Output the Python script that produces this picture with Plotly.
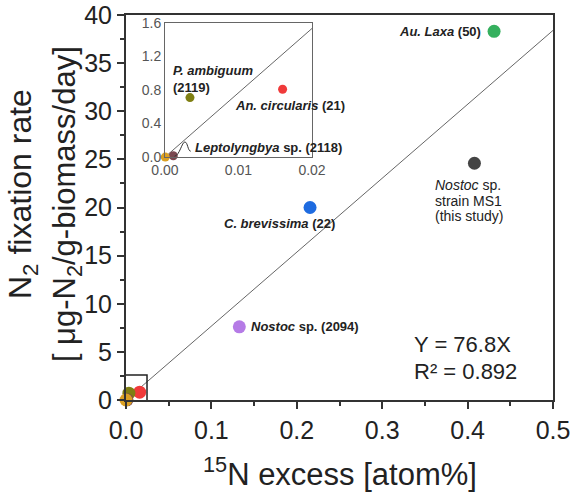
import plotly.graph_objects as go

FONT = "Liberation Sans, Arial, sans-serif"

# Data (main panel)
names = ["Au. Laxa (50)", "Nostoc sp. strain MS1", "C. brevissima (22)", "Nostoc sp. (2094)",
         "An. circularis (21)", "P. ambiguum (2119)", "Leptolyngbya sp. (2118)", "unlabelled"]
x_excess = [0.431, 0.408, 0.2155, 0.1327, 0.0160, 0.0034, 0.00113, 0.00004]
y_rate = [38.3, 24.6, 20.0, 7.6, 0.81, 0.71, 0.016, 0.0]
colors = ["#35b05e", "#444444", "#1e6be0", "#b57be6", "#f03a3a", "#7f7f12", "#7a4850", "#dba023"]

slope = 76.8
fit_x = [0.0, 0.5]
fit_x_inset = [0.0, 0.02]

fig = go.Figure()

fig.add_trace(go.Scatter(x=fit_x, y=[slope * v for v in fit_x], mode="lines",
                         line=dict(color="#666666", width=1), xaxis="x", yaxis="y",
                         hoverinfo="skip", showlegend=False))
fig.add_trace(go.Scatter(x=x_excess, y=y_rate, mode="markers",
                         marker=dict(size=13, color=colors, line=dict(width=0)),
                         xaxis="x", yaxis="y", cliponaxis=False, showlegend=False))

fig.add_trace(go.Scatter(x=fit_x_inset, y=[slope * v for v in fit_x_inset], mode="lines",
                         line=dict(color="#666666", width=1), xaxis="x2", yaxis="y2",
                         hoverinfo="skip", showlegend=False))
ins = [4, 5, 6, 7]
fig.add_trace(go.Scatter(x=[x_excess[i] for i in ins], y=[y_rate[i] for i in ins], mode="markers",
                         marker=dict(size=9, color=[colors[i] for i in ins], line=dict(width=0)),
                         xaxis="x2", yaxis="y2", cliponaxis=False, showlegend=False))

tickfont_main = dict(family=FONT, size=25, color="#222222")
fig.update_layout(
    width=574, height=494,
    margin=dict(l=126, r=21, t=15, b=94, autoexpand=False),
    paper_bgcolor="white", plot_bgcolor="white",
    showlegend=False,
    xaxis=dict(domain=[0, 1], range=[0, 0.5], dtick=0.1, tick0=0, tickformat=".1f",
               automargin=False,
               showgrid=False, zeroline=False, showline=True, linecolor="#333333", linewidth=2,
               mirror=True, ticks="outside", ticklen=7, tickwidth=1.5, tickcolor="#333333",
               minor=dict(dtick=0.05, ticks="outside", ticklen=4, tickcolor="#333333"),
               tickfont=tickfont_main, anchor="y"),
    yaxis=dict(domain=[0, 1], range=[0, 40], dtick=5, tick0=0, automargin=False,
               showgrid=False, zeroline=False, showline=True, linecolor="#333333", linewidth=2,
               mirror=True, ticks="outside", ticklen=7, tickwidth=1.5, tickcolor="#333333",
               minor=dict(dtick=2.5, ticks="outside", ticklen=4, tickcolor="#333333"),
               tickfont=tickfont_main, anchor="x"),
    xaxis2=dict(domain=[0.0913, 0.4356], range=[0, 0.02], tickvals=[0, 0.01, 0.02],
                tickformat=".2f", showgrid=False, zeroline=False, showline=True, automargin=False,
                linecolor="#666666", linewidth=1, mirror=True, ticks="", anchor="y2",
                tickfont=dict(family=FONT, size=14, color="#555555")),
    yaxis2=dict(domain=[0.631, 0.979], range=[0, 1.6], tickvals=[0, 0.4, 0.8, 1.2, 1.6],
                tickformat=".1f", showgrid=False, zeroline=False, showline=True, automargin=False,
                linecolor="#666666", linewidth=1, mirror=True, ticks="", anchor="x2",
                tickfont=dict(family=FONT, size=14, color="#555555")),
)

fig.add_shape(type="rect", xref="x", yref="y", x0=-0.0105, x1=0.0246, y0=-0.5, y1=2.6,
              line=dict(color="#222222", width=1.5), fillcolor="rgba(0,0,0,0)")
fig.add_shape(type="path", xref="x2", yref="y2",
              path="M 0.0013,0.01 C 0.0020,0.02 0.0023,0.18 0.0027,0.18 C 0.0031,0.18 0.0031,0.07 0.0035,0.07",
              line=dict(color="#333333", width=1))

lab = dict(family=FONT, size=13, color="#222222")


def add_label(i, text, xanchor, xshift, yshift, ax="x", ay="y", font=lab, yanchor="middle"):
    fig.add_annotation(x=x_excess[i], y=y_rate[i], xref=ax, yref=ay, text=text, showarrow=False,
                       xanchor=xanchor, yanchor=yanchor, xshift=xshift, yshift=yshift, font=font,
                       align="left")


add_label(0, "<b><i>Au. Laxa</i> (50)</b>", "right", -11, 0)
regular = dict(family=FONT, size=14, color="#222222")
add_label(1, "<i>Nostoc</i> sp.", "left", -41, -21.7, font=regular)
add_label(1, "strain MS1", "left", -41, -37.7, font=regular)
add_label(1, "(this study)", "left", -41, -52.7, font=regular)
add_label(2, "<b><i>C. brevissima</i> (22)</b>", "right", 26.7, -16)
add_label(3, "<b><i>Nostoc</i> sp. (2094)</b>", "left", 10, 0)
add_label(4, "<b><i>An. circularis</i> (21)</b>", "right", 64.4, -16.4, ax="x2", ay="y2")
add_label(5, "<b><i>P. ambiguum</i><br>(2119)</b>", "left", -19, 18.7, ax="x2", ay="y2")
add_label(6, "<b><i>Leptolyngbya</i> sp. (2118)</b>", "left", 20, 8, ax="x2", ay="y2")

eq = dict(family=FONT, size=22, color="#222222")
fig.add_annotation(x=0.67, y=0.143, xref="paper", yref="paper", text="Y = 76.8X",
                   showarrow=False, xanchor="left", yanchor="middle", font=eq)
fig.add_annotation(x=0.67, y=0.0735, xref="paper", yref="paper", text="R² = 0.892",
                   showarrow=False, xanchor="left", yanchor="middle", font=eq)

tfont = dict(family=FONT, size=31, color="#222222")
fig.add_annotation(x=0.501, y=-0.186, xref="paper", yref="paper",
                   text="<sup>15</sup>N excess [atom%]", showarrow=False,
                   xanchor="center", yanchor="middle", font=tfont)
fig.add_annotation(x=-0.2436, y=0.535, xref="paper", yref="paper",
                   text="N<sub>2</sub> fixation rate", showarrow=False, textangle=-90,
                   xanchor="center", yanchor="middle", font=dict(family=FONT, size=32, color="#222222"))
fig.add_annotation(x=-0.138, y=0.509, xref="paper", yref="paper",
                   text="[ μg-N<sub>2</sub>/g-biomass/day]", showarrow=False, textangle=-90,
                   xanchor="center", yanchor="middle", font=tfont)

fig.write_html("out.html")
